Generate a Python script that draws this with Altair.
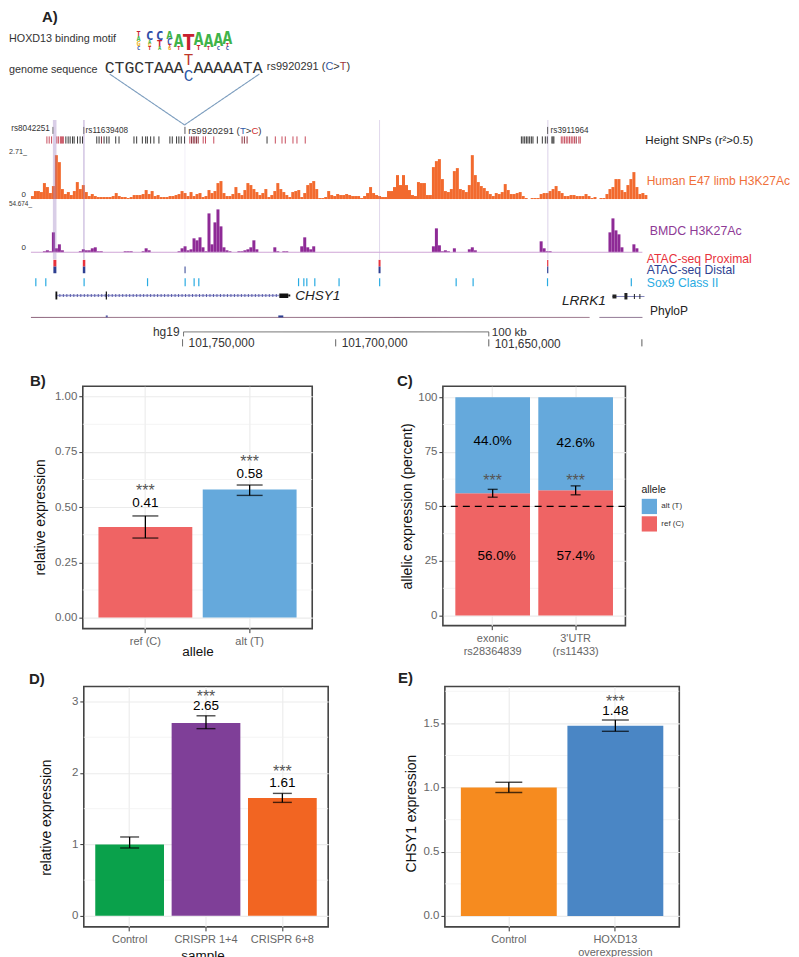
import altair as alt
import pandas as pd

SANS = "Liberation Sans"
MONO = "Liberation Mono"

# ---------- Panel A values ----------
orange_left = [3,8,8,7,16,12,6,13,44,37,10,5,7,4,8,17,10,14,7,3,5,3,2,2,2,2,2,3,6,3,2,2,1,2,4,4,4,5,9,5,8,3,4,2,2,2,3,3,4,5,8,6,3,7,3,5,6,2,3,9,6,8,16,18,6,3,3,5,12,6,4,9,16,14,10,7,4,6,10,2,4,8,16,10,7,4,2,7,8,9,2,6,14,16,18,10,1,1,2,8,4,3,5,4,4]
orange_right = [5,4,3,3,3,1,3,6,12,6,4,3,2,2,8,8,12,24,14,24,14,9,4,3,17,16,16,4,4,32,38,40,20,8,7,10,28,31,10,9,7,14,44,24,17,13,11,8,5,3,6,5,7,15,9,5,5,6,7,3,1,0,1,1,1,5,6,6,8,10,13,8,6,3,3,4,4,3,3,3,5,3,1,2,0,1,1,5,10,12,20,20,9,7,14,20,27,12,5,6,4]
purple_left = [0,0,0,0,1,2,1,20,4,8,2,0,0,0,0,0,1,3,2,2,4,5,1,1,0,0,0,0,0,0,0,1,1,1,0,0,0,1,4,2,0,0,0,0,0,0,0,0,0,1,4,6,2,3,14,12,15,5,1,39,8,30,43,26,5,2,1,0,0,1,1,2,3,5,12,3,0,0,0,0,0,5,1,0,1,1,0,0,0,0,6,15,5,3,6,0,0,0,0,0,0,0,0,0,0]
purple_right = [0,0,0,0,0,0,0,0,0,0,0,0,0,0,0,0,0,0,0,0,0,0,0,0,0,0,0,0,0,6,24,7,1,2,1,0,4,0,0,0,0,3,5,2,0,0,0,0,0,0,0,0,0,0,0,0,0,0,0,0,0,0,0,0,0,11,4,1,1,0,0,0,0,0,0,0,0,0,0,0,0,0,0,0,0,0,0,0,20,34,22,18,5,0,0,0,8,4,0,0]

snp_black = [65,67.3,69.3,71.7,73.3,76.7,79.3,81.7,96,98.3,103.3,106,108.3,115,118.3,133.3,136,141.7,145,146.7,150,153.3,158.3,169.3,171.7,176,178.3,180.7,184,266.7,521.7,523.3,525,526.7,528.3,530,531.7,533.3,537.7,542.7,545.7,547.7,552.3,553.3,554.3]
snp_red = [46,48.3,50.7,56,57.5,59.5,60.5,61.5,62.5,189.3,202.7,205,213.3,275,281.7,285,292.7,296.7,305,561.7,563.3,565,566.7,568.3,570,571.7,573.3,575,579.3,580.7]
snp_dark = [100.7,191,192.7,194.3,196,197.7,241.7,244,246.7,576.7]
sox9 = [34.3,44.3,82.7,146.3,184,193,197.7,297.7,303,306,314,338.3,379,455.7,472.7,547.3,631.3]
highlight_x = [52,82.2,184,379,547.6]
highlight_x2 = [55.6,84,184.8,380,548.8]
highlight_op = [0.38,0.38,0.15,0.3,0.3]
atac_x = [52.5,82,378.5,547.5]
atac_x2 = [55.5,84.5,380.5,548.7]
motif_letter = list("TAGC"+"CAGT"+"CTA"+"ACTG"+"AT"+"T"+"AT"+"AT"+"AC"+"ATC")
motif_col = [138]*4+[149]*4+[159]*3+[169]*4+[178]*2+[188]+[198]*2+[208]*2+[218]*2+[227]*3
motif_top = [29,34,39,44, 29,38,42,45, 29,38,45, 29,37,43,46, 28,45, 28, 29,43, 29,45, 29,44, 29,42,45]
motif_bot = [34,39,44,48, 38,42,45,48, 38,45,48, 37,43,46,48, 45,48, 48, 43,48, 45,48, 44,48, 42,45,48]
motif_colors = {"A":"#3fb34a","C":"#2f4fa8","G":"#f0b429","T":"#c8202f"}

# text, x, y, size, colour, align, weight, style, font
annotations = [
 ("A)",41,15,15,"#222","left","bold","normal",SANS),
 ("HOXD13 binding motif",8,36.5,10.8,"#333","left","normal","normal",SANS),
 ("genome sequence",8,68,10.8,"#333","left","normal","normal",SANS),
 ("CTGCTAAA",104,65.5,16.5,"#333","left","normal","normal",MONO),
 ("AAAAATA",193,66,16.5,"#333","left","normal","normal",MONO),
 ("T",188,58,16,"#c0392b","center","normal","normal",MONO),
 ("C",188,74,16,"#2f5aa8","center","normal","normal",MONO),
 ("rs9920291 (",266.5,65,11,"#333","left","normal","normal",SANS),
 ("C",325.2,65,11,"#2f5aa8","left","normal","normal",SANS),
 (">",333.2,65,11,"#333","left","normal","normal",SANS),
 ("T",339.6,65,11,"#a0353a","left","normal","normal",SANS),
 (")",346.3,65,11,"#333","left","normal","normal",SANS),
 ("rs8042251",10.3,127.5,8.2,"#333","left","normal","normal",SANS),
 ("rs11639408",84.8,129,8.2,"#333","left","normal","normal",SANS),
 ("rs9920291 (",187.7,129,9.7,"#333","left","normal","normal",SANS),
 ("T",239.5,129,9.7,"#2f5aa8","left","normal","normal",SANS),
 (">",245.4,129,9.7,"#333","left","normal","normal",SANS),
 ("C",251,129,9.7,"#d03030","left","normal","normal",SANS),
 (")",258,129,9.7,"#333","left","normal","normal",SANS),
 ("rs3911964",551,129,8.2,"#333","left","normal","normal",SANS),
 ("Height SNPs (r²>0.5)",646,139,11.6,"#222","left","normal","normal",SANS),
 ("Human E47 limb H3K27Ac",647.3,179.7,12.1,"#f0703a","left","normal","normal",SANS),
 ("BMDC H3K27Ac",650.3,229.3,12.4,"#8e3a96","left","normal","normal",SANS),
 ("ATAC-seq Proximal",647.5,257.3,12.2,"#e8323c","left","normal","normal",SANS),
 ("ATAC-seq Distal",647.5,268.3,12.2,"#2e3f91","left","normal","normal",SANS),
 ("Sox9 Class II",647.5,281.7,12.2,"#29abe2","left","normal","normal",SANS),
 ("PhyloP",650.7,310,12,"#222","left","normal","normal",SANS),
 ("CHSY1",295,294.3,13.5,"#222","left","normal","italic",SANS),
 ("LRRK1",562.3,300,13.7,"#222","left","normal","italic",SANS),
 ("2.71_",26,150,7.2,"#333","right","normal","normal",SANS),
 ("0",25,193.5,8,"#333","right","normal","normal",SANS),
 ("54.674_",31,202,6.4,"#333","right","normal","normal",SANS),
 ("0",25,246.5,8,"#333","right","normal","normal",SANS),
 ("hg19",179,331,12,"#333","right","normal","normal",SANS),
 ("100 kb",492,330.7,11.7,"#333","left","normal","normal",SANS),
 ("101,750,000",188,342,11.9,"#333","left","normal","normal",SANS),
 ("101,700,000",341.5,342,11.9,"#333","left","normal","normal",SANS),
 ("101,650,000",495,342.5,11.9,"#333","left","normal","normal",SANS),
]
# x, x2, y, y2, colour, width, dash
line_items = [
 (109,184,72,123,"#7c9dbe",1.1,[1,0]),(259,184,72,123,"#7c9dbe",1.1,[1,0]),
 (52,52,125,132,"#555",0.8,[1,0]),(83,83,125,132,"#555",0.8,[1,0]),(184.4,184.4,125,132,"#333",0.8,[1,0]),(548,548,125,132,"#333",0.8,[1,0]),
 (30,643,250.7,250.7,"#cfa5d6",1.1,[1,0]),
 (55,279,294,294,"#9a9cd0",1.4,[1,0]),(55,279,294,294,"#5a5ca8",3,[1,2.5]),
 (613,645,295,295,"#5b5ea6",1,[1,0]),
 (30,590,316,316,"#7a4a66",0.9,[1,0]),(600,643,316,316,"#6a4a70",0.9,[1,0]),
 (183,489,330.5,330.5,"#666",1,[1,0]),(183,183,330.5,335,"#666",1,[1,0]),(489,489,330.5,335,"#666",1,[1,0]),
 (182,182,338,345,"#444",1,[1,0]),(335.5,335.5,338,345,"#444",1,[1,0]),(489,489,338,345,"#444",1,[1,0]),(642.5,642.5,338,345,"#444",1,[1,0]),
]
# x, x2, y, y2, colour
box_items = [
 (54.6,56.4,290,298,"#111"),(105,106.2,290,298,"#111"),(279,288,292,296.5,"#111"),(288,290,293,295,"#111"),
 (613,617,293,297,"#222"),(625,628,291.5,298,"#222"),(634.5,635.5,292.5,297.5,"#222"),(640,641,292.5,297.5,"#222"),
 (184,185,265,271.7,"#2e3f91"),
 (278,283,314,316,"#2e3f91"),(105,107,314,316,"#5a5ea8"),
]
xs = alt.Scale(domain=[8,791], nice=False, zero=False)
ys = alt.Scale(domain=[8,362], nice=False, zero=False, reverse=True)
X = alt.X("x:Q", scale=xs, axis=None)
Y = alt.Y("y:Q", scale=ys, axis=None)

def track(values, start, base, color):
    rows = [{"x":start+3*i,"x2":start+3*i+3,"y":base-v,"y2":base} for i,v in enumerate(values) if v>0]
    return alt.Chart(pd.DataFrame(rows)).mark_rect(color=color).encode(X, x2="x2:Q", y=Y, y2="y2:Q")

def snp(vals, color):
    d = pd.DataFrame({"x":vals,"y":[134.5]*len(vals),"y2":[141.7]*len(vals)})
    return alt.Chart(d).mark_rule(color=color, strokeWidth=0.9).encode(X, y=Y, y2="y2:Q")

def bands(x, x2, y, y2, color, opacity=1):
    d = pd.DataFrame({"x":x,"x2":x2,"y":[y]*len(x),"y2":[y2]*len(x),"o":[opacity]*len(x) if not isinstance(opacity,list) else opacity})
    return alt.Chart(d).mark_rect(color=color).encode(X, x2="x2:Q", y=Y, y2="y2:Q", opacity=alt.Opacity("o:Q", scale=None))

layers = [
    track(orange_left+orange_right, 30, 197.3, "#f26a2e"),
    track(purple_left+purple_right, 30, 250.7, "#8e2a96"),
    snp(snp_black, "#222"), snp(snp_red, "#c0384a"), snp(snp_dark, "#7f1d2a"),
    bands(highlight_x, highlight_x2, 118, 258, "#9b7fc0", highlight_op),
    bands(atac_x, atac_x2, 258.3, 265, "#e8323c"),
    bands(atac_x, atac_x2, 265, 271.7, "#2e3f91"),
    bands(sox9, [v+1.2 for v in sox9], 276.7, 284.7, "#29abe2"),
]
for x,x2,y,y2,c,w,dsh in line_items:
    d = pd.DataFrame({"x":[x],"x2":[x2],"y":[y],"y2":[y2]})
    layers.append(alt.Chart(d).mark_rule(color=c, strokeWidth=w, strokeDash=dsh).encode(X, x2="x2:Q", y=Y, y2="y2:Q"))
for x,x2,y,y2,c in box_items:
    d = pd.DataFrame({"x":[x],"x2":[x2],"y":[y],"y2":[y2]})
    layers.append(alt.Chart(d).mark_rect(color=c).encode(X, x2="x2:Q", y=Y, y2="y2:Q"))
def motif_size(letter, top, bottom):
    limit = 22 if letter == "T" else 17
    return max(5.5, min(limit, (bottom-top)/0.73))
mdf = pd.DataFrame({"t":motif_letter,"x":motif_col,"y":motif_bot,
                    "fs":[motif_size(l,t,b) for l,t,b in zip(motif_letter,motif_top,motif_bot)],
                    "c":[motif_colors[l] for l in motif_letter]})
layers.append(alt.Chart(mdf).mark_text(baseline="alphabetic", align="center", font="DejaVu Sans Mono", fontWeight="bold").encode(
    X, Y, text="t:N", size=alt.Size("fs:Q", scale=None), color=alt.Color("c:N", scale=None)))
for t,x,y,s,c,a,w,st,f in annotations:
    d = pd.DataFrame({"t":[t],"x":[x],"y":[y]})
    layers.append(alt.Chart(d).mark_text(align=a, baseline="middle", fontSize=s, color=c, fontWeight=w, fontStyle=st, font=f).encode(X, Y, text="t:N"))
panel_a = alt.layer(*layers).properties(width=783, height=354)

# ---------- Bar panel values ----------
b_labels = ["ref (C)","alt (T)"]
b_values = [0.41,0.58]
b_low = [0.36,0.553]
b_high = [0.46,0.60]
b_text = ["0.41","0.58"]
b_text_y = [0.517,0.649]
b_star_y = [0.593,0.722]
b_colors = ["#EF6464","#65A9DC"]

c_labels = ["exonic|rs28364839","3'UTR|(rs11433)"]
c_ref = [56.0,57.4]
c_low = [54.2,55.3]
c_high = [57.8,59.4]
c_star_y = [63.6,63.6]
c_alt_text = ["44.0%","42.6%"]
c_ref_text = ["56.0%","57.4%"]
c_alt_y = [80,79]
c_ref_y = [27.4,27.1]

d_labels = ["Control","CRISPR 1+4","CRISPR 6+8"]
d_values = [1.0,2.70,1.65]
d_low = [0.95,2.62,1.588]
d_high = [1.104,2.80,1.714]
d_text = ["","2.65","1.61"]
d_text_y = [1.2,2.934,1.863]
d_star = ["","***","***"]
d_star_y = [1.3,3.116,2.063]
d_colors = ["#0AA14B","#7F3F98","#F26522"]

e_labels = ["Control","HOXD13|overexpression"]
e_values = [1.0,1.482]
e_low = [0.961,1.438]
e_high = [1.041,1.526]
e_text = ["","1.48"]
e_text_y = [1.1,1.598]
e_star = ["","***"]
e_star_y = [1.2,1.694]
e_colors = ["#F68B1F","#4A86C5"]

BORDER = alt.ViewConfig(stroke="#444", strokeWidth=1.6, fill="white")

def axes(labels, pad_outer, lo, hi, ticks, ytitle, xtitle, fmt, tx, ty, xt_x=None, xt_y=None):
    xa = dict(title=xtitle, labelAngle=0, labelExpr="split(datum.value,'|')", grid=True, gridColor="#ebebeb", gridWidth=1.1,
              labelColor="#666", labelFontSize=11, labelFont=SANS, tickColor="#333", tickSize=4, labelPadding=3,
              domain=False, titleFont=SANS, titleFontSize=13.5, titleFontWeight="normal", titleColor="#111")
    if xt_x is not None:
        xa.update(titleX=xt_x, titleY=xt_y)
    x = alt.X("cat:N", sort=labels, axis=alt.Axis(**xa),
              scale=alt.Scale(type="band", domain=labels, paddingInner=0.1, paddingOuter=pad_outer))
    y = alt.Y("v:Q", axis=alt.Axis(title=ytitle, values=ticks, format=fmt, grid=True, gridColor="#ebebeb", gridWidth=1.1,
              labelColor="#666", labelFontSize=11.5, labelFont=SANS, tickColor="#333", tickSize=4, labelPadding=2,
              domain=False, titleFont=SANS, titleFontSize=14, titleFontWeight="normal", titleColor="#111",
              titleX=tx, titleY=ty),
              scale=alt.Scale(domain=[lo,hi], nice=False, zero=False))
    return x, y

def minor(vals, y):
    return alt.Chart(pd.DataFrame({"v":vals})).mark_rule(color="#f1f1f1", strokeWidth=0.8).encode(y=y)

def anchor(top, bottom):
    return alt.Chart(pd.DataFrame({"a":[0]})).mark_rule(opacity=0).encode(x=alt.value(0), y=alt.value(top), y2=alt.value(bottom))

def spacer(w):
    return alt.Chart(pd.DataFrame({"a":[0]})).mark_rule(opacity=0).encode(x=alt.value(0)).properties(width=w, height=10)

def tag(text, x, y):
    return alt.Chart(pd.DataFrame({"t":[text]})).mark_text(align="left", baseline="middle", fontSize=15, fontWeight="bold", font=SANS, color="#222").encode(
        x=alt.value(x), y=alt.value(y), text="t:N")

def errs(labels, low, high, cap, x, y):
    d = pd.DataFrame({"cat":labels,"v":low,"v2":high})
    r = alt.Chart(d).mark_rule(color="black", strokeWidth=1.3).encode(x=x, y=y, y2="v2:Q")
    t1 = alt.Chart(d).mark_tick(color="black", thickness=1.4, size=cap, orient="horizontal").encode(x=x, y=y)
    t2 = alt.Chart(d.assign(v=high)).mark_tick(color="black", thickness=1.4, size=cap, orient="horizontal").encode(x=x, y=y)
    return [r,t1,t2]

def words(labels, texts, ypos, x, y, size=13.5, color="#000", dy=0, dx=0):
    d = pd.DataFrame({"cat":labels,"v":ypos,"t":texts})
    d = d[d.t!=""]
    return alt.Chart(d).mark_text(fontSize=size, color=color, font=SANS, baseline="middle", dy=dy, dx=dx).encode(x=x, y=y, text="t:N")

def bars(labels, values, colors, x, y):
    d = pd.DataFrame({"cat":labels,"v":values,"c":colors})
    return alt.Chart(d).mark_bar().encode(x=x, y=y, color=alt.Color("c:N", scale=None))

STAR = dict(size=16, color="#555", dy=4)

# B
x,y = axes(b_labels,0.15,-0.05,1.047,[0,0.25,0.5,0.75,1.0],"relative expression","allele",".2f",-35,131,115,16)
panel_b = alt.layer(
    minor([0.125,0.375,0.625,0.875],y), bars(b_labels,b_values,b_colors,x,y),
    *errs(b_labels,b_low,b_high,26,x,y),
    words(b_labels,b_text,b_text_y,x,y),
    words(b_labels,["***","***"],b_star_y,x,y,**STAR),
    tag("B)",-53,-5), anchor(-21,273.5)
).properties(width=230, height=243, view=BORDER)

# C
x,y = axes(c_labels,0.15,-4.6,105,[0,25,50,75,100],"allelic expression (percent)",None,"d",-28,120)
c_x = c_labels
c_df = pd.DataFrame({"cat":c_x+c_x,"v":c_ref+[100,100],"v2":[0,0]+c_ref,"a":["ref (C)"]*2+["alt (T)"]*2})
c_bars = alt.Chart(c_df).mark_bar().encode(x=x, y=y, y2="v2:Q",
    color=alt.Color("a:N", scale=alt.Scale(domain=["alt (T)","ref (C)"], range=["#65A9DC","#EF6464"]),
        legend=alt.Legend(title="allele", orient="none", legendX=634, legendY=99, symbolType="square", symbolSize=234,
                          titleFont=SANS, titleFontSize=10.5, titleFontWeight="normal", titleColor="#222",
                          labelFont=SANS, labelFontSize=8, labelColor="#333", symbolStrokeWidth=0, rowPadding=1.5, titlePadding=3)))
dash = alt.Chart(pd.DataFrame({"v":[50]})).mark_rule(color="black", strokeWidth=1.2, strokeDash=[7,5]).encode(y=y)
panel_c = alt.layer(
    minor([12.5,37.5,62.5,87.5],y), c_bars,
    *errs(c_labels,c_low,c_high,10,x,y),
    dash,
    words(c_labels,c_alt_text,c_alt_y,x,y),
    words(c_labels[:1],c_ref_text[:1],c_ref_y[:1],x,y,dx=4),
    words(c_labels[1:],c_ref_text[1:],c_ref_y[1:],x,y),
    words(c_labels,["***","***"],c_star_y,x,y,**STAR),
    tag("C)",-46,-5)
).properties(width=183, height=240, view=BORDER)

# D
x,y = axes(d_labels,0.15,-0.154,3.21,[0,1,2,3],"relative expression","sample","d",-30,131,119,22)
panel_d = alt.layer(
    minor([0.5,1.5,2.5],y), bars(d_labels,d_values,d_colors,x,y),
    *errs(d_labels,d_low,d_high,19,x,y),
    words(d_labels,d_text,d_text_y,x,y),
    words(d_labels,d_star,d_star_y,x,y,**STAR),
    tag("D)",-55,-7), anchor(-25,272)
).properties(width=245, height=241, view=BORDER)

# E
x,y = axes(e_labels,0.15,-0.085,1.787,[0,0.5,1.0,1.5],"CHSY1 expression",None,".1f",-26,127)
panel_e = alt.layer(
    minor([0.25,0.75,1.25,1.75],y), bars(e_labels,e_values,e_colors,x,y),
    *errs(e_labels,e_low,e_high,27,x,y),
    words(e_labels,e_text,e_text_y,x,y),
    words(e_labels,e_star,e_star_y,x,y,**STAR),
    tag("E)",-47,-8)
).properties(width=235, height=241, view=BORDER)

row1 = alt.hconcat(spacer(74), panel_b, spacer(131), panel_c, spacing=0, bounds="flush")
row2 = alt.hconcat(spacer(75), panel_d, spacer(117), panel_e, spacing=0, bounds="flush")
chart = alt.vconcat(panel_a, row1, row2, spacing=0).properties(padding=0).configure_view(stroke="transparent").resolve_scale(color="independent")
chart.save("out.html", embed_options={"renderer": "svg", "actions": False})
